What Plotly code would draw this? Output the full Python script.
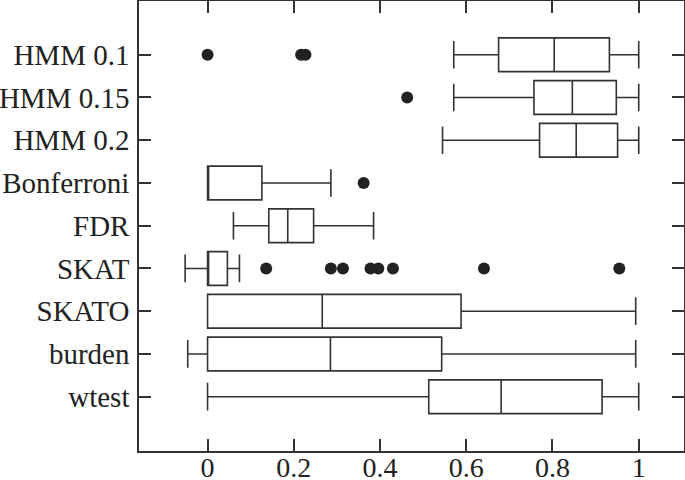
import plotly.graph_objects as go

categories = ["HMM 0.1", "HMM 0.15", "HMM 0.2", "Bonferroni", "FDR",
              "SKAT", "SKATO", "burden", "wtest"]
lower_fence = [0.571, 0.571, 0.545, 0.0, 0.060, -0.052, 0.0, -0.046, 0.0]
q1_vals = [0.675, 0.757, 0.770, 0.0, 0.142, 0.0, 0.0, 0.0, 0.513]
median_vals = [0.804, 0.846, 0.855, 0.0, 0.186, 0.0, 0.266, 0.285, 0.681]
q3_vals = [0.932, 0.948, 0.951, 0.126, 0.246, 0.046, 0.588, 0.543, 0.915]
upper_fence = [1.0, 1.0, 1.0, 0.286, 0.385, 0.074, 0.993, 0.993, 1.0]
outliers = {
    "HMM 0.1": [0.0, 0.217, 0.227],
    "HMM 0.15": [0.463],
    "HMM 0.2": [],
    "Bonferroni": [0.362],
    "FDR": [],
    "SKAT": [0.136, 0.286, 0.314, 0.378, 0.396, 0.430, 0.641, 0.955],
    "SKATO": [],
    "burden": [],
    "wtest": [],
}
x_ticks = [0, 0.2, 0.4, 0.6, 0.8, 1]
x_tick_labels = ["0", "0.2", "0.4", "0.6", "0.8", "1"]

positions = list(range(len(categories)))
line_col = "#333333"
font_family = "Liberation Serif"

fig = go.Figure()
fig.add_trace(go.Box(
    y=positions,
    q1=q1_vals, median=median_vals, q3=q3_vals,
    lowerfence=lower_fence, upperfence=upper_fence,
    orientation="h",
    boxpoints=False,
    fillcolor="white",
    line=dict(color=line_col, width=1.6),
    width=0.79,
    whiskerwidth=0.82,
    showlegend=False,
))

ox, oy = [], []
for i, c in enumerate(categories):
    for v in outliers[c]:
        ox.append(v)
        oy.append(i)
fig.add_trace(go.Scatter(
    x=ox, y=oy, mode="markers",
    marker=dict(color="#222222", size=12, line=dict(width=0)),
    showlegend=False,
))

fig.update_layout(
    width=685, height=480,
    margin=dict(l=139, r=1, t=1, b=29, autoexpand=False),
    paper_bgcolor="white", plot_bgcolor="white",
    font=dict(family=font_family, size=29, color="#222222"),
    xaxis=dict(
        range=[-0.159, 1.105],
        tickvals=x_ticks, ticktext=x_tick_labels,
        tickfont=dict(size=28),
        ticks="inside", ticklen=12, tickwidth=1.5, tickcolor=line_col,
        showline=True, linecolor=line_col, linewidth=1.5, mirror="ticks",
        showgrid=False, zeroline=False, automargin=False,
        ticklabelstandoff=-9,
    ),
    yaxis=dict(
        range=[9.27, -1.257],
        tickvals=positions, ticktext=categories,
        ticks="inside", ticklen=12, tickwidth=1.5, tickcolor=line_col,
        showline=True, linecolor=line_col, linewidth=1.5, mirror="ticks",
        showgrid=False, zeroline=False, automargin=False,
        ticklabelstandoff=2,
    ),
)

fig.write_html(
    "out.html",
    config={"displayModeBar": False},
    post_script="document.body.style.margin='0';document.body.style.overflow='hidden';",
)
